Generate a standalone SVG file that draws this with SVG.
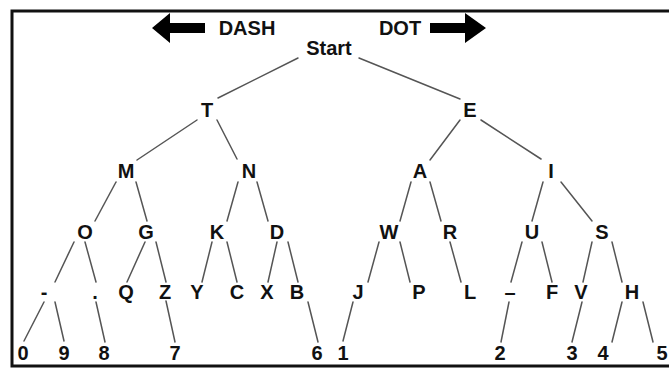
<svg xmlns="http://www.w3.org/2000/svg" width="669" height="368" viewBox="0 0 669 368">
<style>
.t{font-family:"Liberation Sans",Arial,sans-serif;font-weight:bold;font-size:20px;fill:#111;text-anchor:middle}
.c line{stroke:#555;stroke-width:1.5;stroke-linecap:round}
</style>
<rect x="0" y="0" width="669" height="368" fill="#fff"/>
<rect x="12" y="11" width="700" height="355" fill="none" stroke="#111" stroke-width="3"/>
<g id="dash-arrow"><polygon points="152,28 170,13 170,23 205,23 205,33 170,33 170,43" fill="#000"/><text class="t" x="247" y="35">DASH</text></g>
<g id="dot-arrow"><polygon points="430,23 465,23 465,13 486,28 465,43 465,33 430,33" fill="#000"/><text class="t" x="400" y="35">DOT</text></g>
<g class="c" id="connectors">
<line x1="298" y1="58" x2="218" y2="98"/>
<line x1="359" y1="58" x2="460" y2="99"/>
<line x1="197" y1="120" x2="137" y2="160"/>
<line x1="217" y1="120" x2="237" y2="159"/>
<line x1="460" y1="120" x2="430" y2="160"/>
<line x1="481" y1="120" x2="541" y2="159"/>
<line x1="116" y1="182" x2="95" y2="221"/>
<line x1="136" y1="182" x2="147" y2="221"/>
<line x1="238" y1="182" x2="227" y2="221"/>
<line x1="257" y1="182" x2="268" y2="221"/>
<line x1="411" y1="182" x2="400" y2="221"/>
<line x1="430" y1="182" x2="441" y2="221"/>
<line x1="543" y1="182" x2="532" y2="221"/>
<line x1="561" y1="182" x2="592" y2="221"/>
<line x1="74" y1="242" x2="55" y2="282"/>
<line x1="85" y1="242" x2="96" y2="282"/>
<line x1="145" y1="242" x2="127" y2="282"/>
<line x1="156" y1="242" x2="166" y2="282"/>
<line x1="212" y1="242" x2="202" y2="282"/>
<line x1="227" y1="242" x2="237" y2="282"/>
<line x1="277" y1="242" x2="268" y2="282"/>
<line x1="288" y1="242" x2="298" y2="282"/>
<line x1="379" y1="242" x2="368" y2="282"/>
<line x1="400" y1="242" x2="410" y2="282"/>
<line x1="450" y1="242" x2="461" y2="282"/>
<line x1="522" y1="242" x2="511" y2="282"/>
<line x1="542" y1="242" x2="552" y2="282"/>
<line x1="592" y1="242" x2="583" y2="282"/>
<line x1="612" y1="242" x2="622" y2="282"/>
<line x1="44" y1="302" x2="24" y2="341"/>
<line x1="55" y1="302" x2="64" y2="341"/>
<line x1="96" y1="302" x2="105" y2="342"/>
<line x1="166" y1="301" x2="175" y2="342"/>
<line x1="308" y1="302" x2="318" y2="342"/>
<line x1="353" y1="302" x2="343" y2="341"/>
<line x1="509" y1="302" x2="501" y2="342"/>
<line x1="582" y1="302" x2="572" y2="342"/>
<line x1="622" y1="302" x2="612" y2="342"/>
<line x1="643" y1="302" x2="653" y2="342"/>
</g>
<g id="n-start"><text class="t" x="329" y="55">Start</text></g>
<g id="n-T"><text class="t" x="207" y="117">T</text></g>
<g id="n-E"><text class="t" x="470" y="117">E</text></g>
<g id="n-M"><text class="t" x="126" y="178">M</text></g>
<g id="n-N"><text class="t" x="249" y="178">N</text></g>
<g id="n-A"><text class="t" x="420" y="178">A</text></g>
<g id="n-I"><text class="t" x="551" y="178">I</text></g>
<g id="n-O"><text class="t" x="85" y="239">O</text></g>
<g id="n-G"><text class="t" x="146" y="239">G</text></g>
<g id="n-K"><text class="t" x="217" y="239">K</text></g>
<g id="n-D"><text class="t" x="277" y="239">D</text></g>
<g id="n-W"><text class="t" x="389" y="239">W</text></g>
<g id="n-R"><text class="t" x="450" y="239">R</text></g>
<g id="n-U"><text class="t" x="532" y="239">U</text></g>
<g id="n-S"><text class="t" x="602" y="239">S</text></g>
<g id="n-hyphen"><text class="t" x="44" y="299">-</text></g>
<g id="n-period"><text class="t" x="95" y="299">.</text></g>
<g id="n-Q"><text class="t" x="126" y="299">Q</text></g>
<g id="n-Z"><text class="t" x="165" y="299">Z</text></g>
<g id="n-Y"><text class="t" x="197" y="299">Y</text></g>
<g id="n-C"><text class="t" x="237" y="299">C</text></g>
<g id="n-X"><text class="t" x="267" y="299">X</text></g>
<g id="n-B"><text class="t" x="297" y="299">B</text></g>
<g id="n-J"><text class="t" x="358" y="299">J</text></g>
<g id="n-P"><text class="t" x="419" y="299">P</text></g>
<g id="n-L"><text class="t" x="470" y="299">L</text></g>
<g id="n-endash"><text class="t" x="510" y="299">–</text></g>
<g id="n-F"><text class="t" x="552" y="299">F</text></g>
<g id="n-V"><text class="t" x="581" y="299">V</text></g>
<g id="n-H"><text class="t" x="632" y="299">H</text></g>
<g id="n-0"><text class="t" x="23" y="360">0</text></g>
<g id="n-9"><text class="t" x="64" y="360">9</text></g>
<g id="n-8"><text class="t" x="104" y="360">8</text></g>
<g id="n-7"><text class="t" x="175" y="360">7</text></g>
<g id="n-6"><text class="t" x="317" y="360">6</text></g>
<g id="n-1"><text class="t" x="343" y="360">1</text></g>
<g id="n-2"><text class="t" x="500" y="360">2</text></g>
<g id="n-3"><text class="t" x="572" y="360">3</text></g>
<g id="n-4"><text class="t" x="603" y="360">4</text></g>
<g id="n-5"><text class="t" x="662" y="360">5</text></g>
</svg>
